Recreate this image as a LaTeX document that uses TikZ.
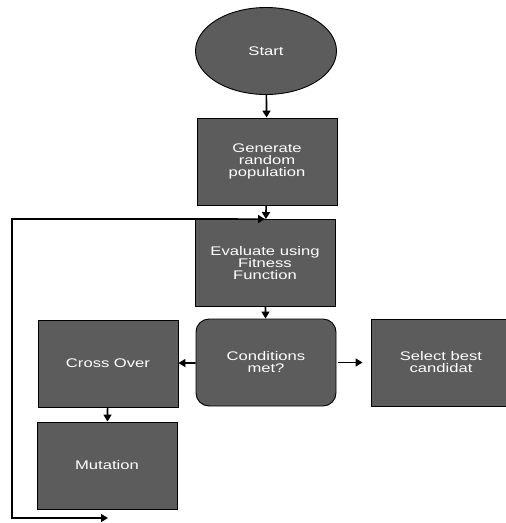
\documentclass[tikz,border=0pt]{standalone}
\usepackage{fontspec}
\setmainfont[FakeStretch=1.33]{Liberation Sans}
\usetikzlibrary{shapes.geometric,arrows.meta}
\definecolor{boxgray}{RGB}{92,92,92}

\begin{document}
\begin{tikzpicture}[x=1pt,y=-1pt,
        >={Triangle[width=8pt,length=7pt]},
        box/.style={draw=black, line width=0.9pt, fill=boxgray, text=white, align=center,
            minimum width=140pt, minimum height=87pt, inner sep=0pt,
            font=\fontsize{12.5}{12}\selectfont},
        arr/.style={->, line width=1.6pt}]
    \useasboundingbox (0,0) rectangle (506,523);

    \node[box, ellipse, minimum width=141pt] (start) at (266,51) {Start};
    \node[box] (gen) at (267,161.5) {Generate\\random\\population};
    \node[box] (eval) at (265,263) {Evaluate using\\Fitness\\Function};
    \node[box, rounded corners=13pt] (cond) at (266,362.5) {Conditions\\met?};
    \node[box] (cross) at (108,363.5) {Cross Over};
    \node[box] (mut) at (107,465.5) {Mutation};
    \node[box] (best) at (441,362.5) {Select best\\candidat};

    \coordinate (loopend) at (108,518);
    \coordinate (loopcorner) at (12,219);

    \draw[arr] (start) -- (gen);
    \draw[arr] (gen) -- (eval);
    \draw[arr] (eval) -- (cond);
    \draw[arr] (cond) -- (cross);
    \draw[arr, shorten <=2pt, shorten >=8pt] (cond) -- (best);
    \draw[arr] (cross) -- (mut);
    \draw[<->, line width=1.6pt] (loopend) -| (loopcorner) -- (eval.north);
\end{tikzpicture}
\end{document}
